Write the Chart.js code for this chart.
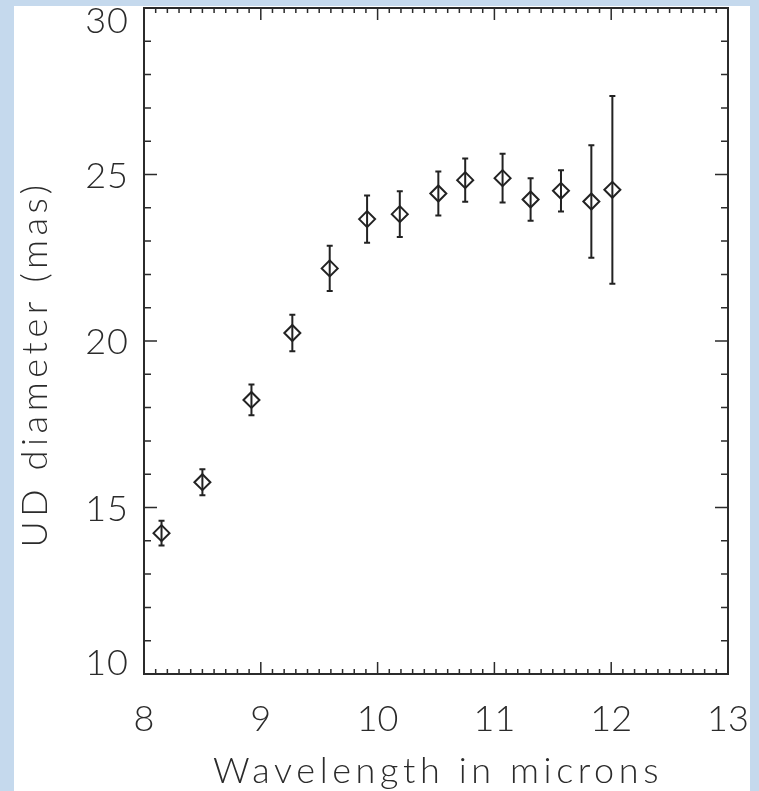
<!DOCTYPE html>
<html>
<head>
<meta charset="utf-8">
<script src="https://cdn.jsdelivr.net/npm/chart.js@4/dist/chart.umd.min.js"></script>
<style>
  html, body { margin: 0; padding: 0; background: #c5d9ed; }
  .panel { position: absolute; left: 14px; top: 6px; width: 736px; height: 785px; background: #fff; }
</style>
</head>
<body>
<div class="panel"><canvas id="udChart"></canvas></div>
<script>
// uniform-disk diameter against wavelength, 1-sigma error bars
const wavelength  = [8.15, 8.50, 8.92, 9.27, 9.59, 9.91, 10.19, 10.52, 10.75, 11.07, 11.31, 11.57, 11.83, 12.01];
const diameter    = [14.23, 15.76, 18.23, 20.24, 22.18, 23.66, 23.81, 24.43, 24.83, 24.89, 24.25, 24.51, 24.19, 24.54];
const diameterErr = [0.37, 0.39, 0.46, 0.55, 0.68, 0.71, 0.69, 0.66, 0.65, 0.73, 0.64, 0.62, 1.69, 2.82];
const xTicks = [8, 9, 10, 11, 12, 13];
const yTicks = [10, 15, 20, 25, 30];
const xTitle = 'Wavelength in microns';
const yTitle = 'UD diameter (mas)';

const ink = '#2b2b2b';
const fontFamily = 'Lato, "DejaVu Sans", sans-serif';
const textFont = '300 36px ' + fontFamily;

// box around the plot with minor/major ticks on all four sides, plus y labels & titles
const framePlugin = {
    id: 'frame',
    afterDraw(chart) {
        const {ctx, chartArea: a, scales: {x, y}} = chart;
        ctx.save();
        ctx.strokeStyle = ink;
        ctx.lineWidth = 2;
        ctx.strokeRect(a.left, a.top, a.right - a.left, a.bottom - a.top);

        ctx.lineWidth = 1.5;
        ctx.beginPath();
        for (let i = xTicks[0] * 10; i <= xTicks[xTicks.length - 1] * 10; i++) {
            const px = x.getPixelForValue(i / 10);
            const len = i % 10 === 0 ? 12 : 5;
            ctx.moveTo(px, a.bottom); ctx.lineTo(px, a.bottom - len);
            ctx.moveTo(px, a.top); ctx.lineTo(px, a.top + len);
        }
        for (let v = yTicks[0]; v <= yTicks[yTicks.length - 1]; v++) {
            const py = y.getPixelForValue(v);
            const len = v % 5 === 0 ? 13 : 7;
            ctx.moveTo(a.left, py); ctx.lineTo(a.left + len, py);
            ctx.moveTo(a.right, py); ctx.lineTo(a.right - len, py);
        }
        ctx.stroke();

        // y labels: end labels pulled inside the axis range
        ctx.fillStyle = ink;
        ctx.font = textFont;
        ctx.textAlign = 'right';
        ctx.textBaseline = 'alphabetic';
        ctx.letterSpacing = '1px';
        yTicks.forEach(v => {
            let py = y.getPixelForValue(v);
            py = Math.min(Math.max(py, a.top + 12), a.bottom - 12);
            ctx.fillText(String(v), a.left - 15, py + 13);
        });

        ctx.textAlign = 'center';
        ctx.letterSpacing = '4.6px';
        ctx.fillText(xTitle, (a.left + a.right) / 2 + 2, chart.height - 8);

        ctx.translate(33, (a.top + a.bottom) / 2 + 25);
        ctx.rotate(-Math.PI / 2);
        ctx.fillText(yTitle, 2, 0);
        ctx.restore();
    }
};

const errorBarPlugin = {
    id: 'errorBars',
    afterDatasetsDraw(chart) {
        const {ctx, scales: {x, y}} = chart;
        ctx.save();
        ctx.strokeStyle = '#222';
        ctx.lineWidth = 2;
        ctx.beginPath();
        wavelength.forEach((w, i) => {
            const px = x.getPixelForValue(w);
            const top = y.getPixelForValue(diameter[i] + diameterErr[i]);
            const bot = y.getPixelForValue(diameter[i] - diameterErr[i]);
            ctx.moveTo(px, top); ctx.lineTo(px, bot);
            ctx.moveTo(px - 3, top); ctx.lineTo(px + 3, top);
            ctx.moveTo(px - 3, bot); ctx.lineTo(px + 3, bot);
        });
        ctx.stroke();
        ctx.restore();
    }
};

function noLabelPadding(scale) {
    scale.paddingLeft = 0;
    scale.paddingRight = 0;
    scale.paddingTop = 0;
    scale.paddingBottom = 0;
}

new Chart(document.getElementById('udChart'), {
    type: 'scatter',
    data: {
        datasets: [{
            data: wavelength.map((w, i) => ({x: w, y: diameter[i]})),
            pointStyle: 'rectRot',
            pointRadius: 8,
            borderWidth: 2,
            borderColor: '#222',
            backgroundColor: 'rgba(0,0,0,0)',
            showLine: false
        }]
    },
    options: {
        responsive: true,
        maintainAspectRatio: false,
        animation: false,
        layout: { autoPadding: false, padding: { left: 0, top: 2, right: 22, bottom: 0 } },
        plugins: { legend: { display: false }, tooltip: { enabled: false } },
        scales: {
            x: {
                type: 'linear',
                min: xTicks[0],
                max: xTicks[xTicks.length - 1],
                afterBuildTicks: scale => { scale.ticks = xTicks.map(v => ({value: v})); },
                afterFit: scale => { scale.height = 117; noLabelPadding(scale); },
                grid: { display: false, drawTicks: false },
                border: { display: false },
                ticks: {
                    padding: 24,
                    maxRotation: 0,
                    color: ink,
                    font: { family: fontFamily, size: 36, weight: 300 }
                }
            },
            y: {
                type: 'linear',
                min: yTicks[0],
                max: yTicks[yTicks.length - 1],
                afterBuildTicks: scale => { scale.ticks = yTicks.map(v => ({value: v})); },
                afterFit: scale => { scale.width = 130; noLabelPadding(scale); },
                grid: { display: false, drawTicks: false },
                border: { display: false },
                ticks: { display: false }
            }
        }
    },
    plugins: [framePlugin, errorBarPlugin]
});
</script>
</body>
</html>
